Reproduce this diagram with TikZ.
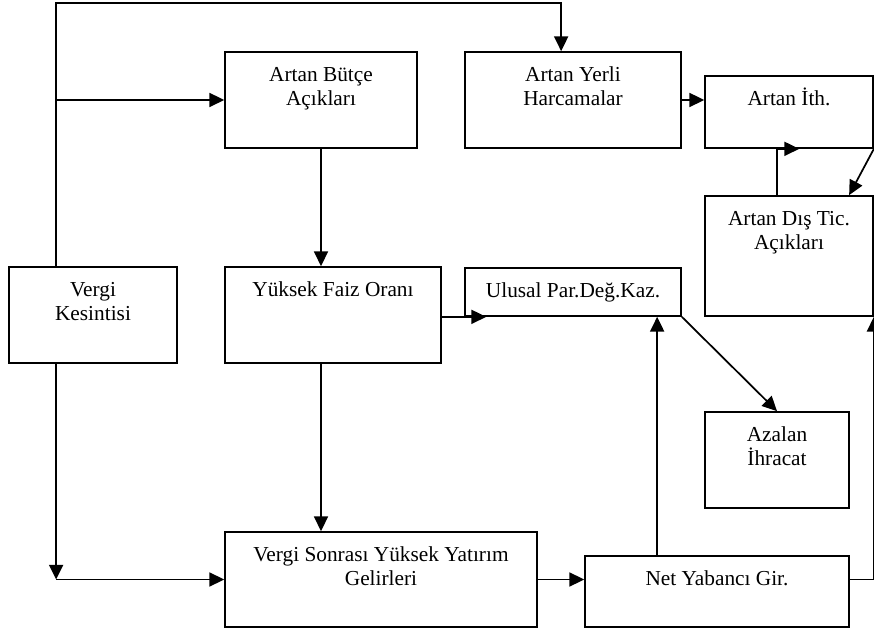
\documentclass[tikz,border=0pt]{standalone}
\usepackage{fontspec}
\setmainfont{Liberation Serif}
\usetikzlibrary{arrows.meta,positioning,calc,fit}
\tikzset{
  box/.style={draw,line width=1.3pt,inner sep=0pt},
  txt/.style={anchor=base,align=center,inner sep=0pt,yshift=-22.5pt-#1*18.5pt,font=\fontsize{16}{18.5}\selectfont},
  txt/.default=0,
  arr/.style={line width=1.3pt,-{Triangle[length=11pt,width=10.5pt]}},
}
\begin{document}
\begin{tikzpicture}[x=0.75pt,y=-0.75pt]
  \useasboundingbox (0,0) rectangle (874,630);
  \node[box,fit={(9,267)(177,363)},label={[txt=1]north:Vergi\\Kesintisi}] (vk) {};
  \node[box,fit={(225,52)(417,148)},label={[txt=1]north:Artan Bütçe\\Açıkları}] (bud) {};
  \node[box,fit={(225,267)(441,363)},label={[txt]north:Yüksek Faiz Oranı}] (faiz) {};
  \node[box,fit={(465,52)(681,148)},label={[txt=1]north:Artan Yerli\\Harcamalar}] (yerli) {};
  \node[box,fit={(705,76)(873,148)},label={[txt]north:Artan İth.}] (ith) {};
  \node[box,fit={(705,196)(873,316)},label={[txt=1]north:Artan Dış Tic.\\Açıkları}] (dis) {};
  \node[box,fit={(465,268)(681,316)},label={[txt]north:Ulusal Par.Değ.Kaz.}] (ulusal) {};
  \node[box,fit={(705,412)(849,508)},label={[txt=1]north:Azalan\\İhracat}] (azalan) {};
  \node[box,fit={(225,532)(537,627)},label={[txt=1]north:Vergi Sonrası Yüksek Yatırım\\Gelirleri}] (sonra) {};
  \node[box,fit={(585,556)(849,627)},label={[txt]north:Net Yabancı Gir.}] (net) {};
  \coordinate (vktop) at ($(vk.north west)+(48,0)$);
  \coordinate (vkbot) at ($(vk.south west)+(48,0)$);
  \coordinate (yin) at ($(yerli.north west)+(97,0)$);
  \coordinate (dup) at ($(dis.north west)+(73,0)$);
  \coordinate (nup) at ($(net.north west)+(73,0)$);
  % upper part
  \draw[arr] (vktop) |- ($(yin)+(0,-48)$) -- (yin);
  \draw[arr] (vktop |- bud.west) -- (bud.west);
  \draw[arr] (bud.south) -- (bud.south |- faiz.north);
  \draw[arr] (yerli.east) -- (yerli.east -| ith.west);
  \draw[arr] (dup) -- (dup |- ith.south) -- ($(ith.south west)+(95,0)$);
  \draw[arr] (ith.south east) -- ($(dis.north west)+(145,0)$);
  % middle
  \draw[arr] (faiz.east |- ulusal.south) -- ($(ulusal.south west)+(22,0)$);
  \draw[arr] (ulusal.south east) -- (azalan.north);
  % lower part
  \draw[arr] (bud.south |- faiz.south) -- (bud.south |- sonra.north);
  \draw[arr] (vkbot) -- (vkbot |- sonra.west);
  \draw[arr] (vkbot |- sonra.west) -- (sonra.west);
  \draw[arr] (sonra.east) -- (sonra.east -| net.west);
  \draw[arr] (nup) -- (nup |- ulusal.south);
  \draw[arr] (sonra.east -| net.east) -| (dis.south east);
\end{tikzpicture}
\end{document}
